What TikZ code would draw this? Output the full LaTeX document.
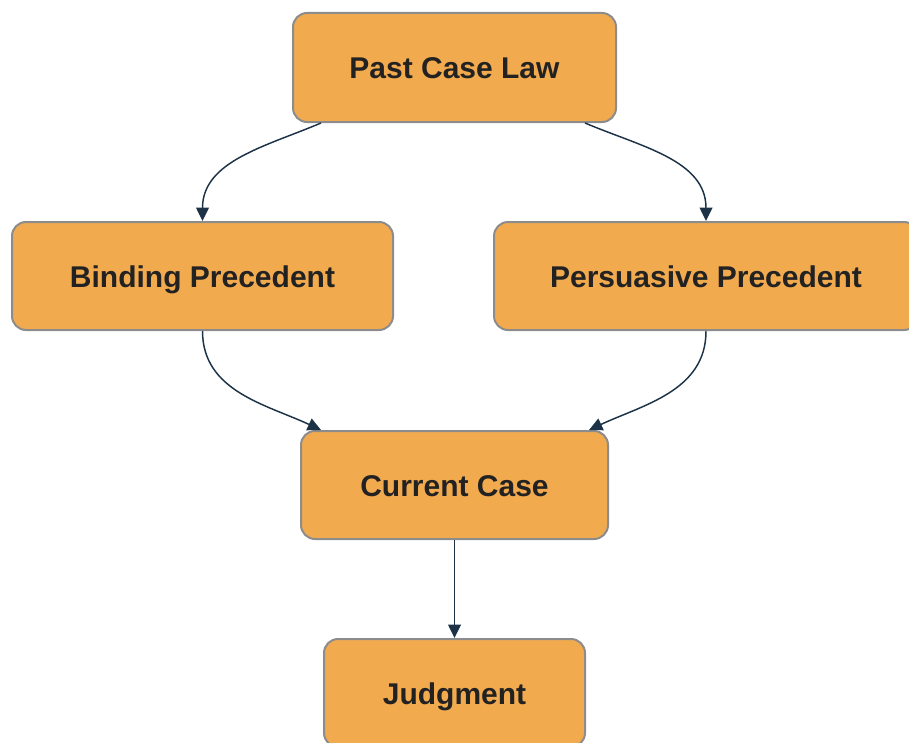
\documentclass[tikz,border=0pt]{standalone}
\usepackage{fontspec}
\setmainfont{Liberation Sans}
\usetikzlibrary{arrows.meta}
\definecolor{boxfill}{HTML}{F2AA4E}
\definecolor{boxdraw}{HTML}{8C8C8C}
\definecolor{arrcol}{HTML}{1C3246}
\definecolor{txtcol}{HTML}{222222}
\begin{document}
\begin{tikzpicture}[x=0.75pt,y=-0.75pt,
  box/.style={draw=boxdraw,line width=1.5pt,fill=boxfill,rounded corners=10.5pt,
    minimum height=81pt,inner sep=0pt,text=txtcol,text height=18.8pt,text depth=2.2pt,
    font=\fontsize{22.5}{27}\selectfont\bfseries},
  arr/.style={draw=arrcol,line width=1.1pt,-{Triangle[length=10pt,width=9.5pt]}}]
\useasboundingbox (0,0) rectangle (909,742);
\node[box,minimum width=242.25pt,minimum height=81.75pt] (past) at (454.5,67.5) {Past Case Law};
\node[box,minimum width=285.75pt] (binding) at (202.5,276) {Binding Precedent};
\node[box,minimum width=318pt] (persuasive) at (706,276) {Persuasive Precedent};
\node[box,minimum width=230.25pt] (current) at (454.5,485) {Current Case};
\node[box,minimum width=195.75pt] (judgment) at (454.5,693) {Judgment};
\draw[arr] ([xshift=21.75pt]past.south west) to[out=-157,in=90] (binding.north);
\draw[arr] ([xshift=-24pt]past.south east) to[out=-23,in=90] (persuasive.north);
\draw[arr] (binding.south) to[out=-90,in=155] ([xshift=15.75pt]current.north west);
\draw[arr] (persuasive.south) to[out=-90,in=25] ([xshift=-15pt]current.north east);
\draw[arr] (current.south) -- (judgment.north);
\end{tikzpicture}
\end{document}
